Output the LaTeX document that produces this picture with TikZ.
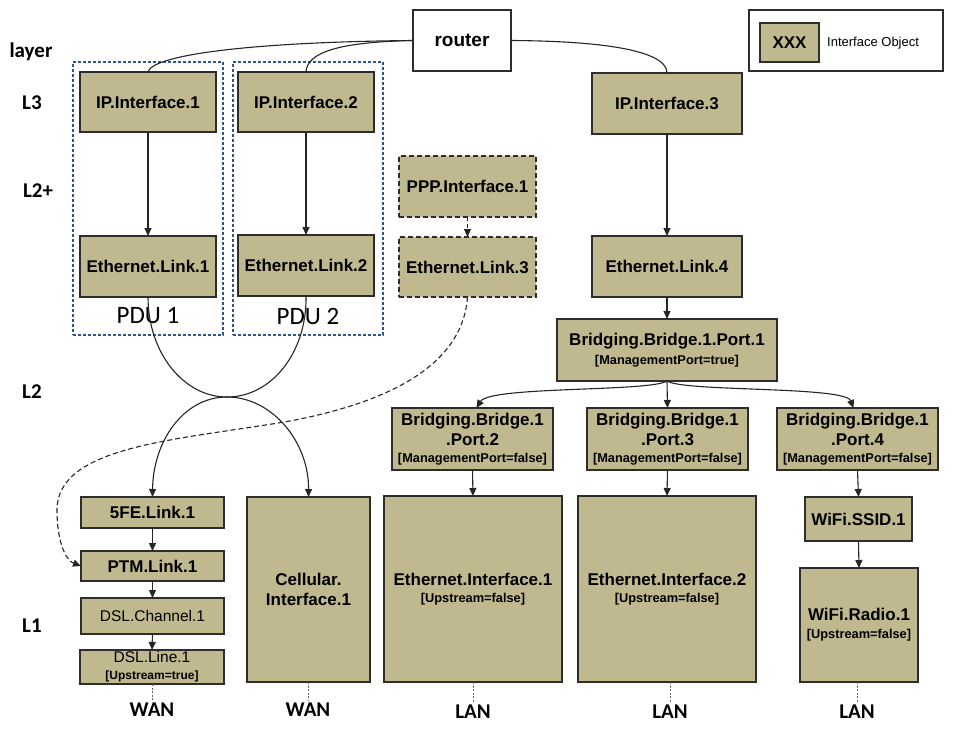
\documentclass[tikz,border=0pt]{standalone}
\usepackage{fontspec}
\setmainfont{Liberation Sans}
\newfontfamily\calib{Carlito}
\usetikzlibrary{arrows.meta}
\definecolor{tanc}{RGB}{192,184,142}
\definecolor{pdublue}{RGB}{47,85,151}
\definecolor{bord}{RGB}{45,45,45}
\newcommand\bigt{\fontsize{17}{20}\selectfont\bfseries}
\newcommand\smt{\fontsize{12.8}{15}\selectfont\bfseries}
\newcommand\regt{\fontsize{15.5}{18}\selectfont}
\begin{document}
\begin{tikzpicture}[x=1pt,y=-1pt,
  wh/.style 2 args={minimum width=#1pt,minimum height=#2pt},
  box/.style={draw=bord,line width=1.5pt,fill=tanc,inner sep=0pt,outer sep=0pt,align=center,font=\bigt},
  dbox/.style={box,dash pattern=on 5pt off 3pt},
  wbox/.style={draw=bord,line width=1.2pt,fill=white,inner sep=0pt,outer sep=0pt},
  pdu/.style={draw=pdublue,line width=2.8pt,dash pattern=on 2.6pt off 2.4pt,fill=none,inner sep=0pt},
  pdul/.style={font=\calib\fontsize{25}{28}\selectfont,inner sep=0pt},
  lay/.style={font=\calib\fontsize{21}{24}\selectfont\bfseries,inner sep=3pt},
  line/.style={draw=black!85,line width=1.1pt},
  conn/.style={line,-{Triangle[length=8pt,width=7pt]}},
  dotl/.style={draw=black!60,line width=1pt,dash pattern=on 2pt off 1.5pt}]
\useasboundingbox (0,0) rectangle (956,731);
\fill[white] (0,0) rectangle (956,731);

% PDU groups
\node[pdu,wh={150}{273}] (pdu1) at (148,198.5) {};
\node[pdu,wh={150}{273}] (pdu2) at (308,198.5) {};
\node[pdul] (pdu1l) at (148,316) {PDU 1};
\node[pdul] (pdu2l) at (308,316) {PDU 2};

% layer labels
\node[lay] (lyr) at (31,52) {layer};
\node[lay] (l3) at (32,103) {L3};
\node[lay] (l2p) at (38,191) {L2+};
\node[lay] (l2) at (32,392) {L2};
\node[lay] (l1) at (32,626) {L1};

% router and legend
\node[wbox,wh={98}{61},font=\fontsize{19}{21}\selectfont\bfseries] (router) at (462,40.5) {router};
\node[wbox,wh={194}{61}] (legend) at (846,40.5) {};
\node[box,wh={59}{39}] (legbox) at (789.5,42.5) {XXX};
\node[font=\fontsize{13}{15}\selectfont,inner sep=0pt,anchor=west] (legtxt) at (827,43) {Interface Object};

% L3 / L2+ objects
\node[box,wh={136}{60}] (ip1) at (148,102) {IP.Interface.1};
\node[box,wh={136}{61}] (el1) at (148,266.5) {Ethernet.Link.1};
\node[box,wh={136}{60}] (ip2) at (306,102) {IP.Interface.2};
\node[box,wh={136}{61}] (el2) at (306,265.5) {Ethernet.Link.2};
\node[dbox,wh={137}{61}] (ppp) at (467.5,186.5) {PPP.Interface.1};
\node[dbox,wh={137}{60}] (el3) at (467.5,267) {Ethernet.Link.3};
\node[box,wh={150}{61}] (ip3) at (667,103.5) {IP.Interface.3};
\node[box,wh={150}{61}] (el4) at (667,266.5) {Ethernet.Link.4};

% bridge ports
\node[box,wh={220}{62}] (p1) at (667,350) {Bridging.Bridge.1.Port.1\\[-1pt]{\smt [ManagementPort=true]}};
\node[box,wh={161}{62}] (p2) at (472.5,439) {Bridging.Bridge.1\\.Port.2\\[-3pt]{\smt [ManagementPort=false]}};
\node[box,wh={161}{62}] (p3) at (667.5,439) {Bridging.Bridge.1\\.Port.3\\[-3pt]{\smt [ManagementPort=false]}};
\node[box,wh={161}{62}] (p4) at (857.5,439) {Bridging.Bridge.1\\.Port.4\\[-3pt]{\smt [ManagementPort=false]}};

% L1 objects
\node[box,wh={178}{186}] (ei1) at (473,589) {Ethernet.Interface.1\\[-3pt]{\smt [Upstream=false]}};
\node[box,wh={178}{186}] (ei2) at (667,589) {Ethernet.Interface.2\\[-3pt]{\smt [Upstream=false]}};
\node[box,wh={107}{44}] (ssid) at (858.5,519) {WiFi.SSID.1};
\node[box,wh={118}{114}] (radio) at (859,625) {WiFi.Radio.1\\[-2pt]{\smt [Upstream=false]}};
\node[box,wh={143}{31}] (fe) at (152.5,512.5) {5FE.Link.1};
\node[box,wh={143}{30}] (ptm) at (152.5,566) {PTM.Link.1};
\node[box,wh={143}{36},font=\regt] (dslch) at (152.5,616) {DSL.Channel.1};
\node[box,wh={144}{34},font=\regt] (dslline) at (152,667) {DSL.Line.1\\[-1pt]{\fontsize{12}{14}\selectfont\bfseries [Upstream=true]}};
\node[box,wh={123}{185}] (cell) at (308.5,589.5) {Cellular.\\Interface.1};

% WAN / LAN
\node[lay] (wan1) at (152,710) {WAN};
\node[lay] (wan2) at (308,710) {WAN};
\node[lay] (lan1) at (473,712) {LAN};
\node[lay] (lan2) at (670,712) {LAN};
\node[lay] (lan3) at (857,712) {LAN};
\draw[dotl] (dslline.south) -- (dslline.south |- wan1.north);
\draw[dotl] (cell.south) -- (cell.south |- wan2.north);
\draw[dotl] (ei1.south) -- (ei1.south |- lan1.north);
\draw[dotl] (ei2.south -| lan2) -- (lan2.north);
\draw[dotl] (radio.south -| lan3) -- (lan3.north);

% router links
\draw[line] (router.west) .. controls (250,42) and (152,55) .. (ip1.north);
\draw[line] (router.west) .. controls (340,42) and (307,52) .. (ip2.north);
\draw[line] (router.east) .. controls (600,41) and (667,50) .. (ip3.north);

% vertical links
\draw[conn] (ip1.south) -- (el1.north);
\draw[conn] (ip2.south) -- (el2.north);
\draw[conn,dash pattern=on 4pt off 3pt] (ppp.south) -- (el3.north);
\draw[conn] (ip3.south) -- (el4.north);
\draw[conn] (el4.south) -- (p1.north);
\draw[conn] (p1.south) -- (p3.north);
\draw[conn] (p1.south) .. controls (650,392) and (490,386) .. ([xshift=4pt]p2.north);
\draw[conn] (p1.south) .. controls (684,392) and (845,386) .. ([xshift=-4pt]p4.north);
\draw[conn] (p2.south) -- (ei1.north);
\draw[conn] (p3.south) -- (ei2.north);
\draw[conn] (p4.south) -- (ssid.north);
\draw[conn] (ssid.south) -- (radio.north);
\draw[conn] (fe.south) -- (ptm.north);
\draw[conn] (ptm.south) -- (dslch.north);
\draw[conn] (dslch.south) -- (dslline.north);

% crossing links
\coordinate (J) at (227,397);
\draw[conn] (el1.south) .. controls (148,352) and (183,397) .. (J) .. controls (272,397) and (309,442) .. (cell.north);
\draw[conn] (el2.south) .. controls (307,352) and (272,397) .. (J) .. controls (183,397) and (153,442) .. (fe.north);
\draw[conn,dash pattern=on 5pt off 3pt] (el3.south) .. controls (463,360) and (400,400) .. (290,421) .. controls (180,440) and (57,445) .. (57,510) .. controls (57,540) and (65,560) .. (ptm.west);
\end{tikzpicture}
\end{document}
